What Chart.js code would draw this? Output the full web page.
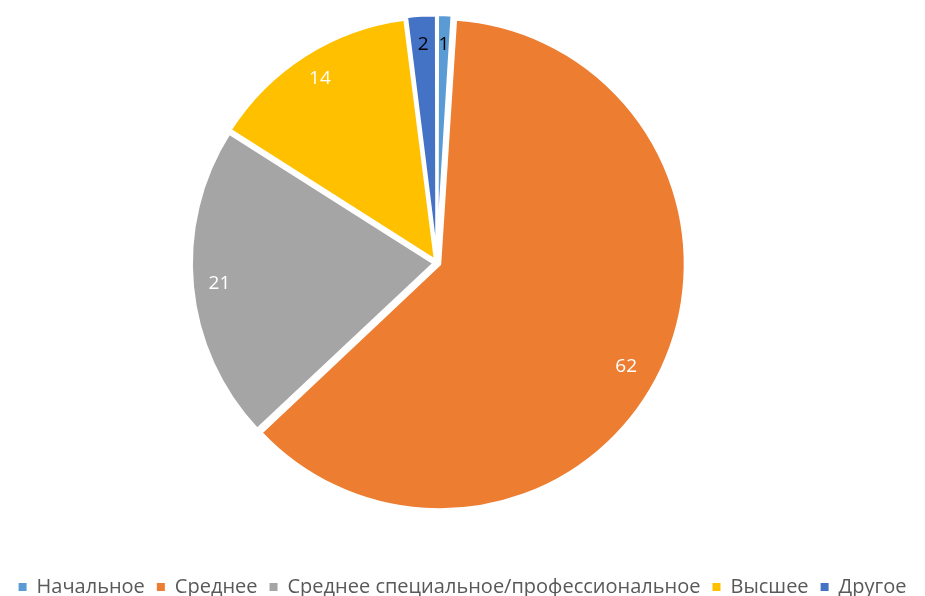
<!DOCTYPE html>
<html>
<head>
<meta charset="utf-8">
<script src="https://cdn.jsdelivr.net/npm/chart.js@4"></script>
<style>
  html, body { margin: 0; padding: 0; background: #fff; }
  #wrap { width: 925px; height: 596px; }
</style>
</head>
<body>
<div id="wrap"><canvas id="pie"></canvas></div>
<script>
const categories = ["Начальное", "Среднее", "Среднее специальное/профессиональное", "Высшее", "Другое"];
const values = [1, 62, 21, 14, 2];
const colors = ["#5B9BD5", "#ED7D31", "#A5A5A5", "#FFC000", "#4472C4"];
const labelColors = ["#000000", "#ffffff", "#ffffff", "#ffffff", "#000000"];

// place the pie where the original has it (a bit left of the legend center)
const PIE_CX = 437;
const PIE_CY = 263;
const PIE_SIZE = 500;
const placePie = {
  id: "placePie",
  afterLayout(chart) {
    const a = chart.chartArea;
    a.left = PIE_CX - PIE_SIZE / 2;
    a.right = PIE_CX + PIE_SIZE / 2;
    a.top = PIE_CY - PIE_SIZE / 2;
    a.bottom = PIE_CY + PIE_SIZE / 2;
    a.width = PIE_SIZE;
    a.height = PIE_SIZE;
  },
};

// value labels near the outer edge of each slice
const sliceLabels = {
  id: "sliceLabels",
  afterDatasetsDraw(chart) {
    const ctx = chart.ctx;
    const meta = chart.getDatasetMeta(0);
    ctx.save();
    ctx.font = "19px 'Open Sans', 'Noto Sans', sans-serif";
    ctx.textAlign = "center";
    ctx.textBaseline = "middle";
    meta.data.forEach((arc, i) => {
      const p = arc.getProps(["x", "y", "startAngle", "endAngle", "outerRadius"], true);
      let mid = (p.startAngle + p.endAngle) / 2;
      if (values[i] > 40) mid += 0.06; // excel puts this one a bit lower
      const d = p.outerRadius - (values[i] > 40 ? 27 : 24);
      ctx.fillStyle = labelColors[i];
      ctx.fillText(String(values[i]), p.x + Math.cos(mid) * d, p.y + Math.sin(mid) * d);
    });
    ctx.restore();
  },
};

const ctx = document.getElementById("pie").getContext("2d");
new Chart(ctx, {
  type: "pie",
  data: {
    labels: categories,
    datasets: [
      {
        data: values,
        backgroundColor: colors,
        borderColor: "#ffffff",
        borderWidth: 3,
        offset: 12,
      },
    ],
  },
  options: {
    responsive: true,
    maintainAspectRatio: false,
    animation: false,
    layout: {
      padding: { top: 0, bottom: -11, left: 0, right: 0 },
    },
    plugins: {
      legend: {
        position: "bottom",
        labels: {
          color: "#595959",
          font: { size: 20, family: "'Open Sans', 'Noto Sans', sans-serif" },
          boxWidth: 8,
          boxHeight: 8,
          padding: 12,
          generateLabels(chart) {
            const items = Chart.overrides.pie.plugins.legend.labels.generateLabels(chart);
            items.forEach((it) => {
              it.lineWidth = 0;
              it.strokeStyle = "transparent";
            });
            return items;
          },
        },
      },
      tooltip: { enabled: false },
    },
  },
  plugins: [placePie, sliceLabels],
});
</script>
</body>
</html>
